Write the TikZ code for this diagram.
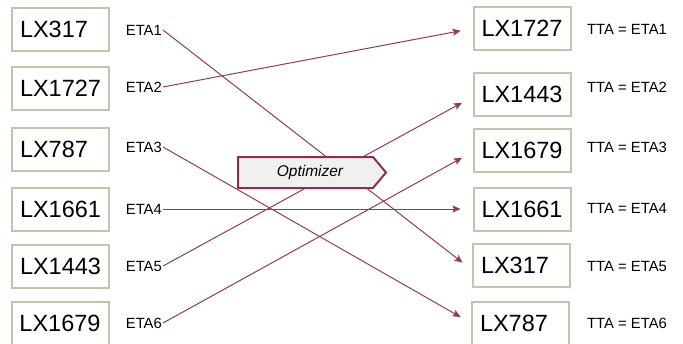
\documentclass[tikz,border=0pt]{standalone}
\usepackage{fontspec}
\setmainfont{Liberation Sans}
\usetikzlibrary{arrows.meta}
\definecolor{flight}{HTML}{C9C0B2}
\definecolor{link}{HTML}{8E3B5C}
\definecolor{optedge}{HTML}{8C2F50}
\definecolor{optfill}{HTML}{F2F0EE}
\tikzset{
  flightbox/.style={draw=flight, line width=2pt, minimum height=43pt,
    inner xsep=8pt, inner ysep=0pt, text width=81pt, align=left,
    font=\fontsize{23.5}{26}\selectfont},
  etalabel/.style={inner sep=1pt, font=\fontsize{14.8}{16}\selectfont},
  ttalabel/.style={inner sep=1pt, font=\fontsize{14.8}{16}\selectfont},
  link/.style={draw=link, line width=1pt, -{Stealth[length=8pt,width=7pt,inset=1.5pt]}, shorten >=12pt},
  optbox/.style={draw=optedge, fill=optfill, line width=2pt, line join=miter},
}
\begin{document}
\begin{tikzpicture}[x=1pt,y=-1pt]
\useasboundingbox (0,0) rectangle (683,343);

% arrival order as estimated
\node[flightbox] (l1) at (60.5,29)  {LX317};
\node[flightbox] (l2) at (60.5,88.5) {LX1727};
\node[flightbox] (l3) at (60.5,149) {LX787};
\node[flightbox] (l4) at (60.5,209.5) {LX1661};
\node[flightbox] (l5) at (60.5,266) {LX1443};
\node[flightbox] (l6) at (60,323.5) {LX1679};

\node[etalabel, anchor=east] (e1) at (163,30)  {ETA1};
\node[etalabel, anchor=east] (e2) at (163,87)  {ETA2};
\node[etalabel, anchor=east] (e3) at (163,147) {ETA3};
\node[etalabel, anchor=east] (e4) at (163,209) {ETA4};
\node[etalabel, anchor=east] (e5) at (163,266) {ETA5};
\node[etalabel, anchor=east] (e6) at (163,323) {ETA6};

% optimised landing order
\node[flightbox] (r1) at (522,28.5) {LX1727};
\node[flightbox] (r2) at (522,94)   {LX1443};
\node[flightbox] (r3) at (522,150)  {LX1679};
\node[flightbox] (r4) at (522,209)  {LX1661};
\node[flightbox] (r5) at (521.5,265) {LX317};
\node[flightbox] (r6) at (520.5,323) {LX787};

\node[ttalabel, anchor=west] (t1) at (586,29)  {TTA = ETA1};
\node[ttalabel, anchor=west] (t2) at (586,87)  {TTA = ETA2};
\node[ttalabel, anchor=west] (t3) at (586,147) {TTA = ETA3};
\node[ttalabel, anchor=west] (t4) at (586,208) {TTA = ETA4};
\node[ttalabel, anchor=west] (t5) at (586,266) {TTA = ETA5};
\node[ttalabel, anchor=west] (t6) at (586,323) {TTA = ETA6};

% reassignments
\draw[link] (e1.east) -- ([yshift=-5pt]r5.west);
\draw[link] (e2.east) -- (r1.west);
\draw[link] (e3.east) -- (r6.west);
\draw[link] (e4.east) -- (r4.west);
\draw[link] (e5.east) -- ([yshift=-3pt]r2.west);
\draw[link] (e6.east) -- ([yshift=-2pt]r3.west);

% optimizer tag on top of the links
\draw[optbox] (238,157) -- (373,157) -- (386,172.5) -- (373,188) -- (238,188) -- cycle;
\node[font=\fontsize{15.5}{17}\selectfont\itshape] (opt) at (310,172.5) {Optimizer};
\end{tikzpicture}
\end{document}
